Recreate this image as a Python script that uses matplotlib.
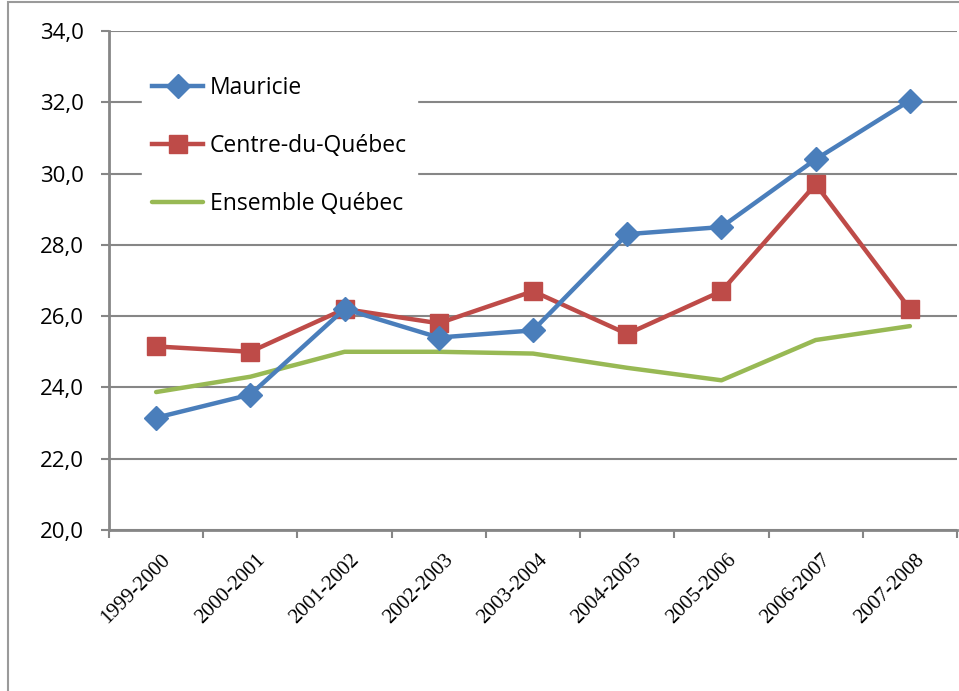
import matplotlib
matplotlib.use("Agg")
import matplotlib.pyplot as plt
from matplotlib.patches import Rectangle
from matplotlib.ticker import FixedLocator, FuncFormatter
from matplotlib.transforms import ScaledTranslation

# Data
years = ["1999-2000", "2000-2001", "2001-2002", "2002-2003", "2003-2004",
         "2004-2005", "2005-2006", "2006-2007", "2007-2008"]
mauricie = [23.15, 23.8, 26.2, 25.4, 25.6, 28.3, 28.5, 30.4, 32.05]
centre_du_quebec = [25.15, 25.0, 26.2, 25.8, 26.7, 25.5, 26.7, 29.7, 26.2]
ensemble_quebec = [23.87, 24.3, 25.0, 25.0, 24.95, 24.55, 24.2, 25.33, 25.72]

BLUE = "#4a7ebb"
RED = "#be4b48"
GREEN = "#98b954"
GRID = "#868686"

fig = plt.figure(figsize=(9.59, 6.91), dpi=100)
ax = fig.add_axes([109 / 959, 161 / 691, 848 / 959, 499 / 691])

x = list(range(len(years)))
ax.plot(x, mauricie, color=BLUE, lw=3.2, marker="D", ms=12, label="Mauricie", zorder=4)
ax.plot(x, centre_du_quebec, color=RED, lw=3.2, marker="s", ms=13,
        label="Centre-du-Québec", zorder=3)
ax.plot(x, ensemble_quebec, color=GREEN, lw=3.2, label="Ensemble Québec",
        solid_capstyle="round", zorder=2)

# Axes
ax.set_xlim(-0.5, len(years) - 0.5)
ax.set_ylim(20, 34)
ax.set_yticks([20, 22, 24, 26, 28, 30, 32, 34])
ax.yaxis.set_major_formatter(FuncFormatter(lambda v, p: f"{v:.1f}".replace(".", ",")))
ax.grid(axis="y", color=GRID, lw=1.5)
ax.set_axisbelow(True)

ax.set_xticks(x)
ax.set_xticklabels(years, rotation=45, ha="right", rotation_mode="anchor",
                   family="Liberation Serif", fontsize=15)
ax.xaxis.set_minor_locator(FixedLocator([i - 0.5 for i in range(len(years) + 1)]))
ax.tick_params(axis="x", which="major", length=0, pad=15)
ax.tick_params(axis="x", which="minor", length=6, width=1.5, color=GRID)
ax.tick_params(axis="y", length=6, width=1.5, color=GRID, labelsize=16, pad=12)
shift = ScaledTranslation(5 / 100, 0, fig.dpi_scale_trans)
for lbl in ax.get_xticklabels():
    lbl.set_transform(lbl.get_transform() + shift)
for lbl in ax.get_yticklabels():
    lbl.set_family("Open Sans")

for side in ["top", "right"]:
    ax.spines[side].set_visible(False)
for side in ["left", "bottom"]:
    ax.spines[side].set_color(GRID)
    ax.spines[side].set_linewidth(2)

# Legend
leg = ax.legend(loc="upper left", bbox_to_anchor=(0.039, 0.93), frameon=True,
                fancybox=False, edgecolor="white", framealpha=1,
                handlelength=2.2, handletextpad=0.3, labelspacing=1.47,
                borderpad=0.45, borderaxespad=0,
                prop={"family": "Open Sans", "size": 16.5})

# Outer chart frame
fig.patches.append(Rectangle((8 / 959, -0.1), 1.2, (689 / 691) + 0.1,
                             transform=fig.transFigure, fill=False,
                             edgecolor="#9a9a9a", lw=1.5))

fig.savefig("out.png", dpi=100)
